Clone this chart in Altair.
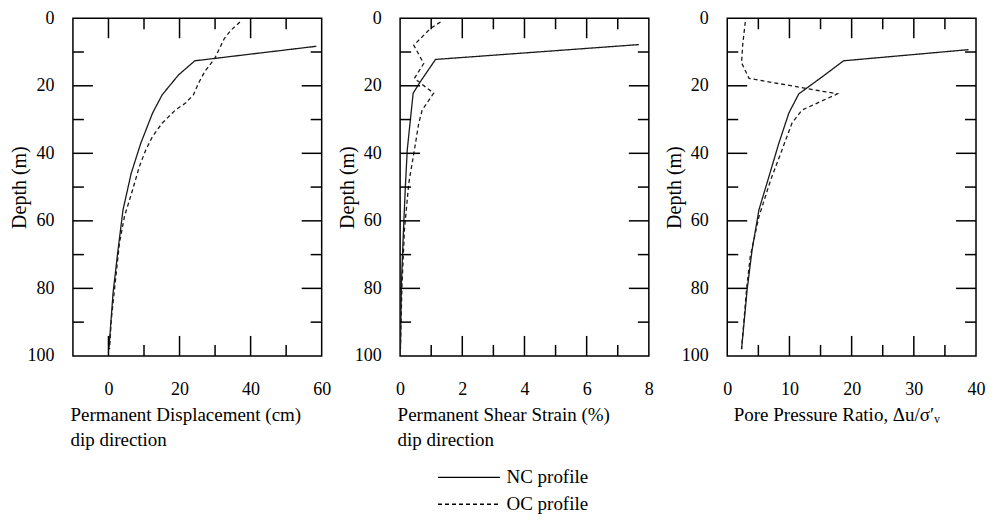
import altair as alt
import pandas as pd

# ---------------- data ----------------
# Panel 1: Permanent Displacement (cm)
disp_nc_depth = [8.3, 12.6, 16.8, 22.7, 28.1, 37.0, 45.9, 56.7, 68.5, 81.3, 94.0, 98.0]
disp_nc_value = [58.5, 24.3, 19.7, 15.1, 12.4, 9.1, 6.4, 4.1, 2.7, 1.3, 0.4, 0.1]
disp_oc_depth = [1.1, 3.5, 6.0, 11.9, 15.8, 19.3, 22.7, 25.2, 27.2, 31.1, 35.0, 39.0, 43.9, 50.8, 58.7, 66.5, 79.3, 89.2, 98.0]
disp_oc_value = [37.0, 34.5, 32.6, 29.9, 27.1, 25.3, 23.9, 21.6, 18.8, 15.1, 12.4, 10.5, 8.7, 6.8, 4.5, 3.1, 1.8, 0.8, 0.3]

# Panel 2: Permanent Shear Strain (%)
strain_nc_depth = [7.8, 12.2, 18.8, 22.2, 30.1, 39.0, 49.8, 64.6, 79.3, 98.0]
strain_nc_value = [7.68, 1.14, 0.65, 0.42, 0.33, 0.23, 0.17, 0.10, 0.04, 0.01]
strain_oc_depth = [1.1, 3.0, 8.0, 13.4, 17.8, 22.2, 27.2, 31.1, 39.0, 48.8, 62.6, 79.3, 98.0]
strain_oc_value = [1.30, 0.98, 0.44, 0.76, 0.46, 1.08, 0.71, 0.60, 0.46, 0.28, 0.14, 0.06, 0.01]

# Panel 3: Pore Pressure Ratio
ppr_nc_depth = [9.3, 12.6, 17.3, 22.4, 28.1, 37.0, 46.9, 56.7, 68.5, 80.3, 98.0]
ppr_nc_value = [38.8, 18.7, 15.3, 11.5, 9.9, 8.3, 6.7, 5.1, 4.0, 3.2, 2.3]
ppr_oc_depth = [1.1, 7.5, 13.2, 17.8, 22.4, 27.2, 31.1, 39.0, 47.8, 58.7, 70.5, 80.3, 98.0]
ppr_oc_value = [2.9, 2.5, 2.3, 3.5, 17.7, 12.0, 10.4, 8.8, 7.0, 5.1, 3.7, 3.1, 2.3]

profiles = ["NC profile", "OC profile"]

# axes / ticks
depth_labels = [0, 20, 40, 60, 80, 100]
depth_major = [20, 40, 60, 80]
depth_minor = [10, 30, 50, 70, 90]

disp_domain = [-10, 60]
disp_labels = [0, 20, 40, 60]
disp_major = [0, 20, 40]
disp_minor = [10, 30, 50]

strain_domain = [0, 8]
strain_labels = [0, 2, 4, 6, 8]
strain_major = [2, 4, 6]
strain_minor = [1, 3, 5, 7]

ppr_domain = [0, 40]
ppr_labels = [0, 10, 20, 30, 40]
ppr_major = [10, 20, 30]
ppr_minor = [5, 15, 25, 35]

titles = [
    ["Permanent Displacement (cm)", "dip direction"],
    ["Permanent Shear Strain (%)", "dip direction"],
    "Pore Pressure Ratio, \u0394u/\u03c3\u2032\u1d65",
]

# ---------------- styling ----------------
FONT = "Liberation Serif"
W, H = 249, 338
MAJ, MIN = 20, 11
LINE_COLOR = "#1a1a1a"


def make_df(nc_d, nc_v, oc_d, oc_v):
    return pd.DataFrame({
        "depth": nc_d + oc_d,
        "value": nc_v + oc_v,
        "profile": [profiles[0]] * len(nc_d) + [profiles[1]] * len(oc_d),
    })


def panel(df, xdom, xlabels, xmajor, xminor, title, title_x):
    xscale = alt.Scale(domain=xdom, nice=False, zero=False)
    yscale = alt.Scale(domain=[0, 100], reverse=True, nice=False)
    xaxis = alt.Axis(
        values=xlabels, title=title, format="d",
        domain=False, ticks=False, tickSize=0, grid=False,
        labelFlush=False, labelOverlap=False,
        labelFont=FONT, labelFontSize=18, labelColor="black", labelPadding=25,
        titleFont=FONT, titleFontSize=19, titleFontWeight="normal", titleColor="black",
        titleAnchor="start", titleAlign="left", titleBaseline="alphabetic",
        titleX=title_x, titleY=65, titleLineHeight=25)
    yaxis = alt.Axis(
        values=depth_labels, title="Depth (m)", format="d",
        domain=False, ticks=False, tickSize=0, grid=False,
        labelFlush=False, labelOverlap=False,
        labelFont=FONT, labelFontSize=18, labelColor="black", labelPadding=19,
        titleFont=FONT, titleFontSize=20, titleFontWeight="normal", titleColor="black",
        titleAngle=270, titleAlign="center", titleBaseline="middle",
        titleX=-53, titleY=H / 2)
    lines = alt.Chart(df).mark_line(strokeWidth=1.3, color=LINE_COLOR, clip=True).encode(
        x=alt.X("value:Q", scale=xscale, axis=xaxis),
        y=alt.Y("depth:Q", scale=yscale, axis=yaxis),
        strokeDash=alt.StrokeDash("profile:N", scale=alt.Scale(domain=profiles, range=[[1, 0], [4, 3]]),
                                  legend=alt.Legend(
                                      title=None, orient="none", legendX=387, legendY=450,
                                      symbolType="M-5,0H5", symbolSize=154,
                                      symbolStrokeColor="black", symbolStrokeWidth=1.3,
                                      labelFont=FONT, labelFontSize=19, labelColor="black",
                                      labelOffset=28, rowPadding=7)),
        order=alt.Order("depth:Q"),
    )
    layers = [lines]
    for vals, L in ((xmajor, MAJ), (xminor, MIN)):
        base = alt.Chart(pd.DataFrame({"t": vals})).mark_rule(color="black", strokeWidth=1.5)
        layers.append(base.encode(x=alt.X("t:Q", scale=xscale, axis=xaxis), y=alt.value(0), y2=alt.value(L)))
        layers.append(base.encode(x=alt.X("t:Q", scale=xscale, axis=xaxis), y=alt.value(H), y2=alt.value(H - L)))
    for vals, L in ((depth_major, MAJ), (depth_minor, MIN)):
        base = alt.Chart(pd.DataFrame({"t": vals})).mark_rule(color="black", strokeWidth=1.5)
        layers.append(base.encode(y=alt.Y("t:Q", scale=yscale, axis=yaxis), x=alt.value(0), x2=alt.value(L)))
        layers.append(base.encode(y=alt.Y("t:Q", scale=yscale, axis=yaxis), x=alt.value(W), x2=alt.value(W - L)))
    return alt.layer(*layers).properties(width=W, height=H)


p1 = panel(make_df(disp_nc_depth, disp_nc_value, disp_oc_depth, disp_oc_value),
           disp_domain, disp_labels, disp_major, disp_minor, titles[0], -3)
p2 = panel(make_df(strain_nc_depth, strain_nc_value, strain_oc_depth, strain_oc_value),
           strain_domain, strain_labels, strain_major, strain_minor, titles[1], -3)
p3 = panel(make_df(ppr_nc_depth, ppr_nc_value, ppr_oc_depth, ppr_oc_value),
           ppr_domain, ppr_labels, ppr_major, ppr_minor, titles[2], 6)

chart = alt.hconcat(
    p1, p2, p3, spacing=78.5, bounds="flush",
    padding={"left": 1, "top": 0, "right": 0, "bottom": 0},
).configure_view(stroke="black", strokeWidth=1.5)

chart.save("out.html", embed_options={"renderer": "svg", "actions": False})
